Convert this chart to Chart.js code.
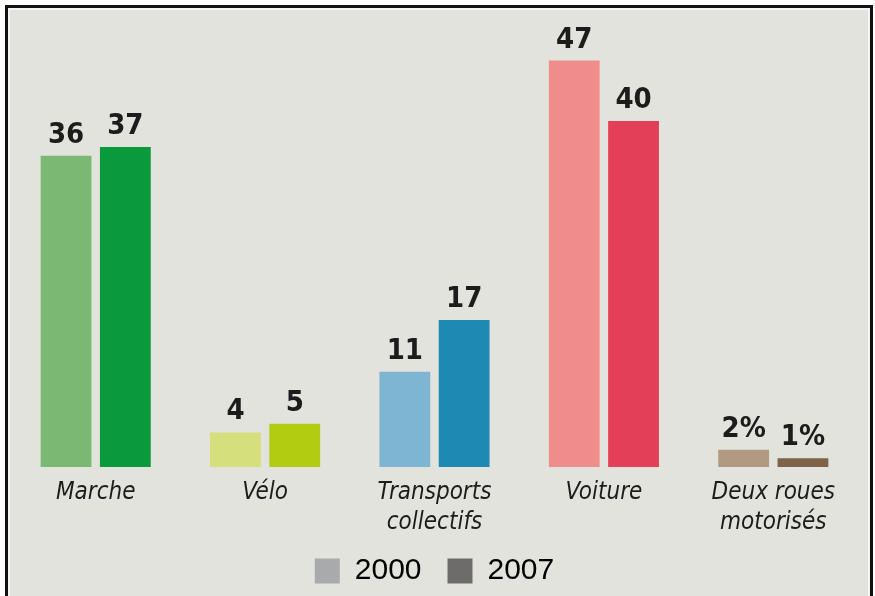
<!DOCTYPE html>
<html>
<head>
<meta charset="utf-8">
<script src="https://cdn.jsdelivr.net/npm/chart.js@4.4.0/dist/chart.umd.min.js"></script>
<style>
  html, body { margin: 0; padding: 0; background: #ffffff; }
  #frame {
    position: absolute; left: 5px; top: 5px; width: 862px; height: 600px;
    border: 3px solid #111; background: #e3e3de;
    box-shadow: inset 0 0 0 2px #f4f4f2;
  }
  #wrap { position: absolute; left: 0; top: 0; width: 875px; height: 596px; }
</style>
</head>
<body>
<div id="frame"></div>
<div id="wrap"><canvas id="modesChart" width="875" height="596"></canvas></div>
<script>
// Données
const categories = ['Marche', 'Vélo', ['Transports', 'collectifs'], 'Voiture', ['Deux roues', 'motorisés']];
const values2000 = [36, 4, 11, 47, 2];
const values2007 = [37, 5, 17, 40, 1];
const labels2000 = ['36', '4', '11', '47', '2%'];
const labels2007 = ['37', '5', '17', '40', '1%'];
const colors2000 = ['#7bb873', '#d5df7b', '#7db5d3', '#ef8d8c', '#b19a81'];
const colors2007 = ['#0b9a3b', '#b2cc12', '#1e8ab3', '#e33f59', '#7e6249'];
const legendLabels = ['2000', '2007'];
const legendColors = ['#a9aaac', '#6e6c6a'];

const narrow = "'Liberation Sans Narrow', 'DejaVu Sans Condensed', sans-serif";

// Plugin pour écrire les valeurs au-dessus des barres
const valueLabels = {
  id: 'valueLabels',
  afterDatasetsDraw(chart) {
    const ctx = chart.ctx;
    const all = [labels2000, labels2007];
    ctx.save();
    ctx.font = 'bold 29px ' + narrow;
    ctx.fillStyle = '#1c1c1c';
    ctx.textAlign = 'center';
    ctx.textBaseline = 'bottom';
    chart.data.datasets.forEach((ds, i) => {
      chart.getDatasetMeta(i).data.forEach((bar, j) => {
        ctx.fillText(all[i][j], bar.x, bar.y - 6);
      });
    });
    ctx.restore();
  }
};

const ctx = document.getElementById('modesChart').getContext('2d');
const modesChart = new Chart(ctx, {
  type: 'bar',
  data: {
    labels: categories,
    datasets: [
      { label: legendLabels[0], data: values2000, backgroundColor: colors2000 },
      { label: legendLabels[1], data: values2007, backgroundColor: colors2007 }
    ]
  },
  options: {
    responsive: false,
    animation: false,
    layout: { padding: { left: 11, right: 17, top: 0, bottom: 0 } },
    datasets: { bar: { categoryPercentage: 0.70, barPercentage: 0.857 } },
    scales: {
      x: {
        grid: { display: false },
        border: { display: false },
        ticks: {
          color: '#1c1c1c',
          padding: 3,
          font: { family: narrow, size: 24, style: 'italic', lineHeight: 1.25 }
        },
        afterFit: (scale) => { scale.height = 63; }
      },
      y: { display: false, min: 0, max: 54 }
    },
    plugins: {
      tooltip: { enabled: false },
      legend: {
        position: 'bottom',
        labels: {
          color: '#1c1c1c',
          boxWidth: 25,
          boxHeight: 25,
          padding: 26,
          font: { family: "'Liberation Sans', Arial, sans-serif", size: 30 },
          generateLabels: () => legendLabels.map((t, i) => ({
            text: t, fillStyle: legendColors[i], strokeStyle: legendColors[i], lineWidth: 0, datasetIndex: i
          }))
        }
      }
    }
  },
  plugins: [valueLabels]
});
</script>
</body>
</html>
